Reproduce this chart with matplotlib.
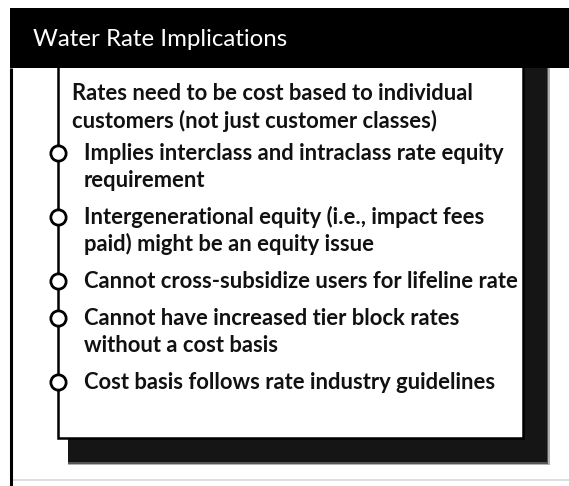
import matplotlib
matplotlib.use("Agg")
import matplotlib.pyplot as plt
from matplotlib.patches import Rectangle, Polygon

# ---- content ----
title = "Water Rate Implications"
header_lines = ["Rates need to be cost based to individual",
                "customers (not just customer classes)"]
items = [
    ["Implies interclass and intraclass rate equity", "requirement"],
    ["Intergenerational equity (i.e., impact fees", "paid) might be an equity issue"],
    ["Cannot cross-subsidize users for lifeline rate"],
    ["Cannot have increased tier block rates", "without a cost basis"],
    ["Cost basis follows rate industry guidelines"],
]

# ---- layout (pixel coordinates) ----
W, H = 569, 486
fig = plt.figure(figsize=(W / 100, H / 100), dpi=100)
ax = fig.add_axes([0, 0, 1, 1])
ax.set_xlim(0, W)
ax.set_ylim(H, 0)
ax.axis("off")

FONT = ["Lato", "DejaVu Sans"]

band_top, band_bot = 8, 68
box_left, box_right, box_bot = 58, 523, 438
sh = 24  # shadow depth

# header band
ax.add_patch(Rectangle((10, band_top), W - 10, band_bot - band_top,
                       facecolor="black", edgecolor="none", zorder=2))
ax.text(33, (band_top + band_bot) / 2 + 1, title, color="white",
        fontsize=17.3, family=FONT, va="center", ha="left", zorder=3)

# outer left frame line
ax.plot([11.5, 11.5], [band_bot, H], color="black", lw=2.2,
        solid_capstyle="butt", zorder=2)
# faint bottom rule
ax.plot([12, W], [480, 480], color="#d8d8d8", lw=1.2, zorder=1)

# shadow (layered for a fuzzy look)
for grow, col in [(3, "#b0b0b0"), (1.5, "#555555"), (0, "#151515")]:
    poly = [(box_right, band_bot), (box_right + sh + grow, band_bot),
            (box_right + sh + grow, box_bot + sh + grow),
            (box_left + 10, box_bot + sh + grow), (box_left + 10, box_bot),
            (box_right, box_bot)]
    ax.add_patch(Polygon(poly, closed=True, facecolor=col,
                         edgecolor="none", zorder=1))

# inner white box
ax.add_patch(Rectangle((box_left, band_bot), box_right - box_left,
                       box_bot - band_bot, facecolor="white",
                       edgecolor="none", zorder=1.5))
# box borders: timeline (left), bottom, right
ax.plot([box_left, box_left, box_right, box_right],
        [band_bot, box_bot, box_bot, band_bot],
        color="black", lw=1.8, zorder=3, solid_joinstyle="miter")

# header text
L = 27          # line spacing
G = 37          # gap between items
FS = 15.8
hx, hy = 72, 94
for i, line in enumerate(header_lines):
    ax.text(hx, hy + i * L, line, fontsize=FS, fontweight="bold",
            family=FONT, va="center", ha="left", color="#111111", zorder=4)

# items with circles
y = 153
tx = 84
for lines in items:
    ax.plot([box_left], [y], marker="o", markersize=11,
            markerfacecolor="white", markeredgecolor="black",
            markeredgewidth=2.0, zorder=5)
    for j, line in enumerate(lines):
        ax.text(tx, y + j * L, line, fontsize=FS, fontweight="bold",
                family=FONT, va="center", ha="left", color="#111111",
                zorder=4)
    y += (len(lines) - 1) * L + G

fig.savefig("out.png", dpi=100, facecolor="white")
